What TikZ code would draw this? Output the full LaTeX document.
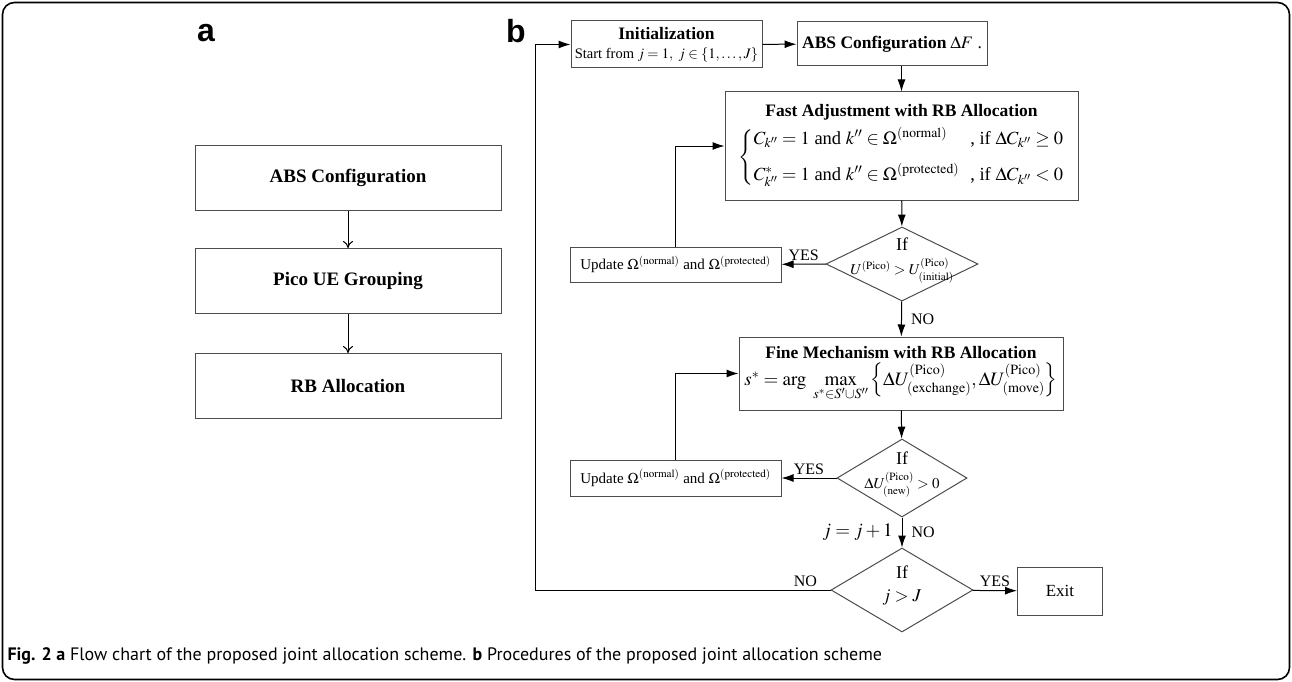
\documentclass[tikz,border=0pt]{standalone}
\usepackage{amsmath}
\usepackage{mathptmx}
\usepackage{fontspec}
\setmainfont{Liberation Serif}
\setsansfont{Liberation Sans}
\newfontfamily\capfont{PT Sans}
\usetikzlibrary{arrows.meta,positioning,shapes.geometric}
% text inside a diamond that does not widen it
\newcommand{\condtext}[1]{\makebox[0pt]{\smash{\begin{tabular}{@{}c@{}}#1\end{tabular}}}}

\begin{document}
\begin{tikzpicture}[x=1pt, y=-1pt, >={Latex[length=12pt,width=8pt]}, line width=1pt, inner sep=0pt, font=\fontsize{15}{18}\selectfont]
	\tikzset{rect/.style={draw=black!70,line width=1pt,align=center}}
	\tikzset{cond/.style={diamond,draw=black!70,line width=1pt,inner sep=0pt}}
	\tikzset{tag/.style={inner sep=3pt,font=\fontsize{16}{18}\selectfont}}
	% Frame
	\useasboundingbox (0,0) rectangle (1292,682);
	\draw[black,line width=1.6pt,rounded corners=12pt] (2.5,2.5) rectangle (1289.5,679.5);

	% Panel a
	\node[font=\sffamily\bfseries\fontsize{32}{36}\selectfont] (la) at (206,33) {a};
	\node[rect, minimum width=306pt, minimum height=65pt, font=\bfseries\fontsize{19}{22}\selectfont] (a0) at (348,178) {ABS Configuration};
	\node[rect, minimum width=306pt, minimum height=65pt, font=\bfseries\fontsize{19}{22}\selectfont] (a1) [below=37pt of a0] {Pico UE Grouping};
	\node[rect, minimum width=306pt, minimum height=65pt, font=\bfseries\fontsize{19}{22}\selectfont] (a2) [below=39pt of a1] {RB Allocation};
	\draw[-{To[length=7pt,width=10pt]}] (a0) -- (a1);
	\draw[-{To[length=7pt,width=10pt]}] (a1) -- (a2);

	% Panel b
	\node[font=\sffamily\bfseries\fontsize{32}{36}\selectfont] (lb) at (516,31) {b};
	\node[rect, minimum width=191pt, minimum height=47pt] (b0) at (666.5,44.5)
		{{\fontsize{17.5}{20}\selectfont\bfseries Initialization}\\[1pt] {\fontsize{14.5}{17}\selectfont Start from $j=1,\ j\in\left\{1,\ldots,J\right\}$}};
	\node[rect, minimum width=190pt, minimum height=44pt] (b1) at (892,44)
		{{\fontsize{17.5}{20}\selectfont\bfseries ABS Configuration} {\fontsize{17.5}{20}\selectfont$\Delta F$ .}};
	\node[rect, minimum width=353pt, minimum height=108pt] (b2) at (901.5,146)
		{{\fontsize{17.5}{20}\selectfont\bfseries Fast Adjustment with RB Allocation}\\[6pt]
		{\fontsize{18.5}{24}\selectfont$\left\{\begin{array}{@{}l@{\hspace{0.6em}}l@{}}
			C_{k''}=1 \text{ and } k''\in\Omega^{\left(\mathrm{normal}\right)} & \text{, if } \Delta C_{k''}\geq 0\\[12pt]
			C^{*}_{k''}=1 \text{ and } k''\in\Omega^{\left(\mathrm{protected}\right)} & \text{, if } \Delta C_{k''}<0
		\end{array}\right.$}};
	\node[cond, minimum width=152pt, minimum height=74pt] (b3) at (902,264)
		{\condtext{{\fontsize{18}{20}\selectfont If}\\[3pt] $U^{(\mathrm{Pico})}>U^{(\mathrm{Pico})}_{(\mathrm{initial})}$}};
	\node[rect, minimum width=211pt, minimum height=35pt] (b4) at (675.5,264.5)
		{Update $\Omega^{(\mathrm{normal})}$ and $\Omega^{(\mathrm{protected})}$};
	\node[rect, minimum width=324pt, minimum height=73pt] (b5) at (901,373.5)
		{{\fontsize{17.5}{20}\selectfont\bfseries Fine Mechanism with RB Allocation}\\[4pt]
		{\fontsize{19}{24}\selectfont$s^{*}=\arg\ \max\limits_{s^{*}\in S'\cup S''}\left\{\Delta U^{(\mathrm{Pico})}_{(\mathrm{exchange})},\Delta U^{(\mathrm{Pico})}_{(\mathrm{move})}\right\}$}};
	\node[cond, minimum width=130pt, minimum height=78pt] (b6) at (902,478)
		{\condtext{{\fontsize{18}{20}\selectfont If}\\[3pt] $\Delta U^{(\mathrm{Pico})}_{(\mathrm{new})}>0$}};
	\node[rect, minimum width=211pt, minimum height=36pt] (b7) at (675.5,478)
		{Update $\Omega^{(\mathrm{normal})}$ and $\Omega^{(\mathrm{protected})}$};
	\node[cond, minimum width=142pt, minimum height=84pt] (b8) at (902,590)
		{\condtext{{\fontsize{18}{20}\selectfont If}\\[5pt] {\fontsize{18}{20}\selectfont$j>J$}}};
	\node[rect, minimum width=85pt, minimum height=48pt, font=\fontsize{17}{20}\selectfont] (b9) at (1060,591) {Exit};
	\coordinate (c0) at (535,590);

	% Transitions
	\draw[->] (b0) -- (b1);
	\draw[->] (b2.north |- b1.south) -- (b2.north);
	\draw[->] (b2) -- (b3);
	\draw[->] (b3) -- node[tag, above] {YES} (b4);
	\draw[->] (b4.north) |- (b2.west);
	\draw[->] (b3) -- node[tag, right=6pt] {NO} (b5);
	\draw[->] (b5) -- (b6);
	\draw[->] (b6) -- node[tag, above] {YES} (b7);
	\draw[->] (b7.north) |- (b5.west);
	\draw[->] (b6) -- node[tag, right=6pt] {NO} node[tag, left=6pt, font=\fontsize{19}{20}\selectfont] {$j=j+1$} (b8);
	\draw[->] (b8) -- node[tag, above] {YES} (b9);
	\draw[->] (b8.west) -- node[tag, above, pos=0.085] {NO} (c0) |- (b0.west);

	% Caption
	\node[anchor=west, font=\capfont\fontsize{18}{20}\selectfont] (cap) at (7,656)
		{\textbf{Fig. 2 a} Flow chart of the proposed joint allocation scheme. \textbf{b} Procedures of the proposed joint allocation scheme};
\end{tikzpicture}
\end{document}
